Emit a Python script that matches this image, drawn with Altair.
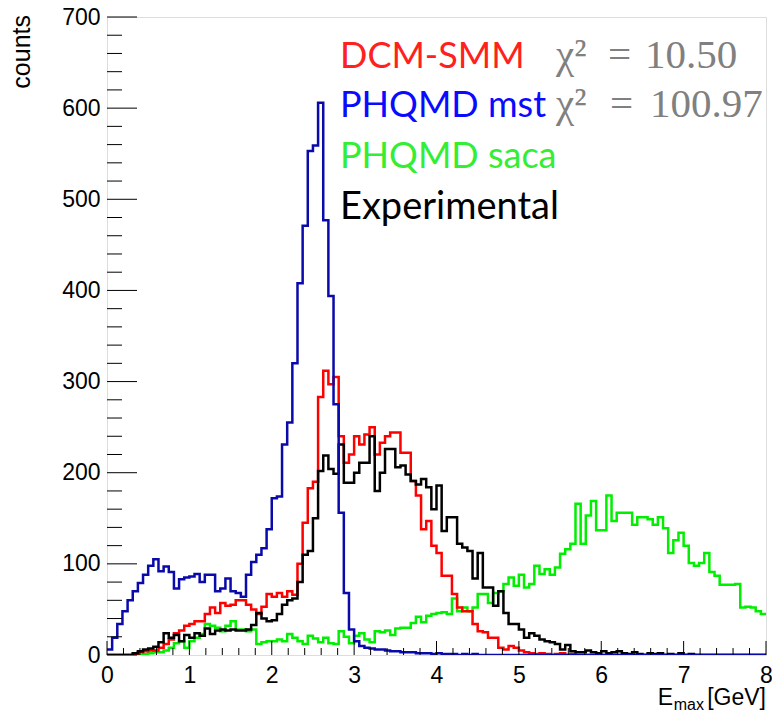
import altair as alt
import pandas as pd

# ---------------- data ----------------
BIN_WIDTH = 0.0625
N_BINS = 128
bin_edges = [i * BIN_WIDTH for i in range(N_BINS + 1)]

dcm_smm = [
    0, 0, 0, 0, 0, 1, 3, 4, 5, 5, 8, 12, 17, 24, 27, 32,
    34, 37, 37, 45, 52, 46, 57, 54, 55, 60, 60, 55, 50, 45, 53, 67,
    64, 68, 64, 70, 66, 100, 145, 183, 190, 283, 312, 297, 305, 240, 211, 220,
    240, 231, 242, 250, 220, 233, 240, 244, 244, 222, 222, 191, 175, 138, 147, 120,
    112, 87, 87, 67, 52, 48, 48, 34, 26, 25, 19, 19, 8, 6, 10, 8,
    5, 3, 2, 1, 2, 1, 0, 1, 2, 0, 1, 0, 0, 0, 0, 0,
    0, 0, 0, 0, 0, 0, 0, 0, 0, 0, 0, 0, 0, 0, 0, 0,
    0, 0, 0, 0, 0, 0, 0, 0, 0, 0, 0, 0, 0, 0, 0, 0,
]
phqmd_mst = [
    6, 19, 34, 48, 60, 70, 79, 88, 98, 105, 92, 97, 91, 73, 83, 85,
    86, 89, 80, 88, 88, 70, 73, 84, 70, 68, 64, 88, 102, 110, 117, 138,
    172, 174, 231, 255, 320, 408, 471, 553, 559, 606, 477, 394, 275, 156, 68, 28,
    15, 10, 8, 7, 6, 6, 5, 4, 4, 3, 3, 3, 2, 2, 2, 1,
    2, 1, 1, 1, 0, 1, 0, 1, 0, 0, 0, 0, 0, 0, 0, 0,
    0, 0, 0, 0, 0, 0, 0, 0, 0, 0, 0, 0, 0, 0, 0, 0,
    0, 0, 0, 0, 0, 0, 0, 0, 0, 0, 0, 0, 0, 0, 0, 0,
    0, 0, 0, 0, 0, 0, 0, 0, 0, 0, 0, 0, 0, 0, 0, 0,
]
phqmd_saca = [
    0, 0, 0, 0, 0, 0, 0, 1, 2, 3, 3, 5, 8, 13, 15, 8,
    15, 19, 23, 34, 32, 30, 26, 32, 37, 28, 28, 26, 28, 12, 14, 15,
    15, 17, 15, 23, 19, 15, 12, 21, 18, 14, 19, 13, 12, 26, 20, 13,
    21, 24, 17, 14, 26, 25, 27, 22, 29, 30, 30, 35, 42, 36, 43, 45,
    46, 47, 45, 62, 48, 52, 48, 52, 67, 67, 57, 68, 70, 78, 85, 76,
    88, 74, 78, 98, 89, 94, 88, 96, 111, 116, 122, 166, 122, 153, 169, 137,
    137, 175, 147, 156, 156, 156, 143, 151, 151, 149, 143, 151, 139, 112, 126, 134,
    120, 101, 98, 101, 112, 91, 87, 77, 77, 77, 78, 52, 53, 52, 48, 45,
]
experimental = [
    0, 0, 0, 0, 0, 2, 4, 6, 7, 9, 14, 24, 19, 22, 15, 22,
    19, 24, 21, 29, 23, 27, 28, 27, 28, 27, 27, 28, 33, 46, 40, 37,
    38, 45, 55, 60, 62, 80, 110, 114, 150, 202, 219, 204, 199, 231, 189, 189,
    200, 211, 211, 240, 180, 200, 226, 226, 206, 208, 198, 191, 187, 193, 184, 160,
    186, 136, 151, 151, 122, 118, 114, 84, 112, 74, 74, 54, 70, 46, 34, 34,
    28, 19, 24, 21, 17, 15, 14, 12, 6, 11, 4, 3, 3, 5, 3, 2,
    4, 2, 3, 4, 2, 1, 3, 1, 0, 2, 1, 2, 0, 1, 0, 2,
    0, 1, 0, 0, 0, 0, 0, 0, 0, 0, 0, 0, 0, 0, 0, 0,
]

x_major_ticks = [0, 1, 2, 3, 4, 5, 6, 7, 8]
x_minor_ticks = [round(i * 0.2, 1) for i in range(41) if i % 5 != 0]
y_major_ticks = [0, 100, 200, 300, 400, 500, 600, 700]
y_minor_ticks = [i * 20 for i in range(36) if i % 5 != 0]

# ---------------- layout ----------------
W, H = 659, 638
OX, OY = 107, 17  # plot origin inside the 772x713 page

LINE_COLORS = {
    "DCM-SMM": "#ff0000",
    "PHQMD mst": "#0a0aaa",
    "PHQMD saca": "#00ee00",
    "Experimental": "#000000",
}

xscale = alt.Scale(domain=[0, 8], nice=False, zero=False)
yscale = alt.Scale(domain=[0, 700], nice=False, zero=True)

x_axis = alt.Axis(values=x_major_ticks, format="d", tickSize=0, domain=False, grid=False,
                  labelFont="Liberation Sans", labelFontSize=23, labelPadding=9,
                  labelColor="black", labelFlush=False, labelOverlap=False, title=None)
y_axis = alt.Axis(values=y_major_ticks, format="d", tickSize=0, domain=False, grid=False,
                  labelFont="Liberation Sans", labelFontSize=23, labelPadding=7,
                  labelColor="black", labelFlush=False, labelOverlap=False, title=None)


def step_df(values):
    return pd.DataFrame({"x": bin_edges, "y": list(values) + [values[-1]]})


def hist_layer(values, color):
    return alt.Chart(step_df(values)).mark_line(
        interpolate="step-after", color=color, strokeWidth=2.5, clip=True
    ).encode(
        x=alt.X("x:Q", scale=xscale, axis=x_axis),
        y=alt.Y("y:Q", scale=yscale, axis=y_axis),
    )


def xtick_layer(vals, length):
    return alt.Chart(pd.DataFrame({"x": vals})).mark_rule(color="black", strokeWidth=1).encode(
        x=alt.X("x:Q", scale=xscale, axis=x_axis),
        y=alt.value(H), y2=alt.value(H - length),
    )


def ytick_layer(vals, length):
    return alt.Chart(pd.DataFrame({"y": vals})).mark_rule(color="black", strokeWidth=1).encode(
        y=alt.Y("y:Q", scale=yscale, axis=y_axis),
        x=alt.value(0), x2=alt.value(length),
    )


def text_layer(text, px, py, size, color, font, align="left", angle=0, baseline="alphabetic"):
    kw = dict(text=text, fontSize=size, color=color, font=font, align=align, baseline=baseline)
    if angle:
        kw["angle"] = angle
    return alt.Chart(alt.Data(values=[{}])).mark_text(**kw).encode(
        x=alt.value(px - OX), y=alt.value(py - OY)
    )


layers = [
    hist_layer(phqmd_saca, LINE_COLORS["PHQMD saca"]),
    hist_layer(dcm_smm, LINE_COLORS["DCM-SMM"]),
    hist_layer(experimental, LINE_COLORS["Experimental"]),
    hist_layer(phqmd_mst, LINE_COLORS["PHQMD mst"]),
    xtick_layer(x_major_ticks, 14),
    xtick_layer(x_minor_ticks, 7),
    ytick_layer(y_major_ticks, 30),
    ytick_layer(y_minor_ticks, 15),
    # legend texts
    text_layer("DCM-SMM", 340, 68, 36, "#ff2020", "Lato"),
    text_layer("PHQMD mst", 340, 117, 36, "#0a0aff", "Lato"),
    text_layer("PHQMD saca", 340, 168, 36, "#33ee33", "Lato"),
    text_layer("Experimental", 340, 219, 38, "#000000", "Lato"),
    # chi2 texts
    text_layer("χ²", 556, 68, 41, "#808080", "Liberation Serif"),
    text_layer("=", 608, 68, 41, "#808080", "Liberation Serif"),
    text_layer("10.50", 645, 68, 41, "#808080", "Liberation Serif"),
    text_layer("χ²", 556, 117, 41, "#808080", "Liberation Serif"),
    text_layer("=", 610, 117, 41, "#808080", "Liberation Serif"),
    text_layer("100.97", 650, 117, 41, "#808080", "Liberation Serif"),
    # axis titles
    text_layer("counts", 22, 15, 25, "black", "Liberation Sans", align="right", angle=270,
               baseline="middle"),
    text_layer("[GeV]", 766, 705, 23, "black", "Liberation Sans", align="right"),
    text_layer("max", 704, 710, 16, "black", "Liberation Sans", align="right"),
    text_layer("E", 673, 705, 23, "black", "Liberation Sans", align="right"),
]

chart = alt.layer(*layers).properties(
    width=W, height=H,
    autosize=alt.AutoSizeParams(type="none"),
    padding={"left": OX, "top": OY, "right": 772 - OX - W, "bottom": 713 - OY - H},
).configure_view(
    stroke="#111111", strokeWidth=1.5
).configure(background="white")

chart.save("out.html", embed_options={"renderer": "svg", "actions": False})
